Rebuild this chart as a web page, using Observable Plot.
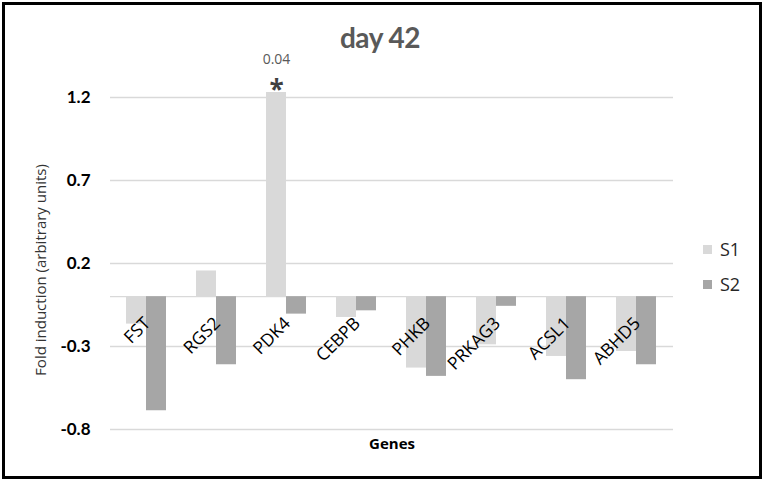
<!DOCTYPE html>
<html>
<head>
<meta charset="utf-8">
<script src="https://cdn.jsdelivr.net/npm/d3@7"></script>
<script src="https://cdn.jsdelivr.net/npm/@observablehq/plot@0.6"></script>
<style>
  html, body { margin: 0; padding: 0; background: #fff; }
  #wrap { position: relative; width: 764px; height: 484px; font-family: Lato, "Open Sans", sans-serif; overflow: hidden; }
  #wrap svg { position: absolute; left: 0; top: 0; }
  .border { position: absolute; left: 2px; top: 2px; width: 754px; height: 471px; border: 3px solid #000; pointer-events: none; }
  .title { position: absolute; left: 0; width: 764px; top: 20px; text-align: center; margin-left: -2px; font-size: 28px; font-weight: bold; color: #595959; letter-spacing: -0.5px; }
  .ytitle { position: absolute; left: 40px; top: 270px; transform: translate(-50%, -50%) rotate(-90deg); white-space: nowrap; font-family: "Open Sans", sans-serif; font-size: 15px; color: #333; }
  .xtitle { position: absolute; left: 392px; top: 443px; transform: translate(-50%, -50%); font-family: "Open Sans", sans-serif; font-size: 15px; font-weight: bold; color: #000; }
  .legend { position: absolute; left: 703px; font-family: "Open Sans", sans-serif; font-size: 18px; color: #262626; }
  .legend .sw { display: inline-block; width: 9px; height: 9px; margin-right: 8px; vertical-align: 2px; }
</style>
</head>
<body>
<div id="wrap">
  <div class="title">day 42</div>
  <div class="ytitle">Fold induction (arbitrary units)</div>
  <div class="xtitle">Genes</div>
  <div class="legend" style="top:237px"><span class="sw" style="background:#d9d9d9"></span>S1</div>
  <div class="legend" style="top:272px"><span class="sw" style="background:#a6a6a6"></span>S2</div>
  <div class="border"></div>
</div>
<script>
const genes = ["FST", "RGS2", "PDK4", "CEBPB", "PHKB", "PRKAG3", "ACSL1", "ABHD5"];
const s1 = [-0.165, 0.155, 1.23, -0.125, -0.43, -0.29, -0.36, -0.33];
const s2 = [-0.687, -0.41, -0.105, -0.085, -0.48, -0.058, -0.50, -0.41];
const yTicks = [1.2, 0.7, 0.2, -0.3, -0.8];
const annotations = [{gene: "PDK4", value: 1.23, p: "0.04", star: "*"}];

const S1 = genes.map((g, i) => ({gene: g, value: s1[i]}));
const S2 = genes.map((g, i) => ({gene: g, value: s2[i]}));

const chart = Plot.plot({
  width: 764,
  height: 484,
  marginTop: 97,
  marginBottom: 55,
  marginLeft: 110,
  marginRight: 91,
  style: {fontFamily: "Lato, 'Open Sans', sans-serif", background: "transparent"},
  x: {domain: genes, paddingInner: 0.426, paddingOuter: 0.213, axis: null},
  y: {domain: [-0.8, 1.2], axis: null},
  marks: [
    Plot.ruleY(yTicks, {stroke: "#d9d9d9", strokeWidth: 1.3}),
    Plot.ruleY([0], {stroke: "#d9d9d9", strokeWidth: 1.3}),
    Plot.axisY(yTicks, {
      tickSize: 0, tickPadding: 20, label: null,
      tickFormat: d => d.toFixed(1).replace("\u2212", "-"),
      fontSize: 17, fontWeight: "bold", fill: "#000"
    }),
    Plot.barY(S1, {x: "gene", y: "value", fill: "#d9d9d9", insetRight: 20}),
    Plot.barY(S2, {x: "gene", y: "value", fill: "#a6a6a6", insetLeft: 20}),
    Plot.text(genes, {
      x: d => d, y: () => 0, text: d => d,
      rotate: -45, textAnchor: "end", lineAnchor: "top",
      dx: -4, dy: 19, fontSize: 17.5, fill: "#000",
      fontFamily: "'Open Sans', sans-serif"
    }),
    Plot.text(annotations, {x: "gene", y: "value", text: "p", dx: -10, dy: -33, fontSize: 14, fill: "#595959", fontFamily: "'Open Sans', sans-serif"}),
    Plot.text(annotations, {x: "gene", y: "value", text: "star", dx: -10, dy: -2, fontSize: 26, fontWeight: "bold", fill: "#404040", fontFamily: "'Open Sans', sans-serif"})
  ]
});
document.getElementById("wrap").prepend(chart);
</script>
</body>
</html>
